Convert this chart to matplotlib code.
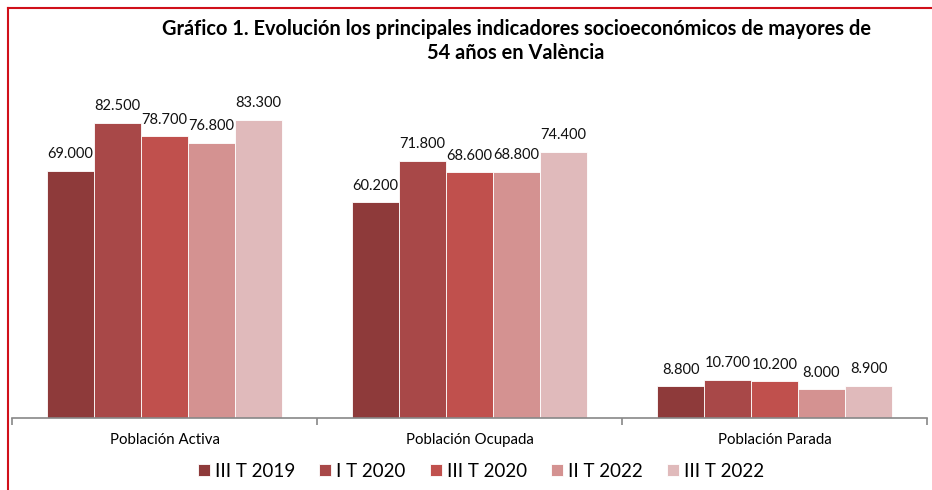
import matplotlib
matplotlib.use("Agg")
import matplotlib.pyplot as plt
import numpy as np
from matplotlib.lines import Line2D

plt.rcParams['font.family'] = ['Lato', 'DejaVu Sans']

categories = ["Población Activa", "Población Ocupada", "Población Parada"]
series_names = ["III T 2019", "I T 2020", "III T 2020", "II T 2022", "III T 2022"]
values = {
    "III T 2019": [69000, 60200, 8800],
    "I T 2020": [82500, 71800, 10700],
    "III T 2020": [78700, 68600, 10200],
    "II T 2022": [76800, 68800, 8000],
    "III T 2022": [83300, 74400, 8900],
}
colors = ["#8E3A3A", "#A84848", "#C0504D", "#D49291", "#E0BABB"]
title = "Gráfico 1. Evolución los principales indicadores socioeconómicos de mayores de\n54 años en València"

def fmt(v):
    return f"{v:,.0f}".replace(",", ".")

fig = plt.figure(figsize=(9.32, 4.9), dpi=100)
ax = fig.add_axes([12/932, 72/490, 915/932, 343/490])

x = np.arange(len(categories))
w = 0.154
for i, name in enumerate(series_names):
    pos = x + (i - 2) * w
    bars = ax.bar(pos, values[name], width=w, color=colors[i], edgecolor="white",
                  linewidth=0.6, label=name)
    for b, v in zip(bars, values[name]):
        ax.annotate(fmt(v), (b.get_x() + b.get_width()/2, b.get_height()),
                    xytext=(0, 7), textcoords="offset points",
                    ha="center", va="bottom", fontsize=10.5, color="#111111")

ax.set_xlim(-0.5, 2.5)
ax.set_ylim(0, 95800)
for s in ["top", "right", "left"]:
    ax.spines[s].set_visible(False)
ax.spines["bottom"].set_color("#888888")
ax.spines["bottom"].set_linewidth(1.2)
ax.set_yticks([])
ax.set_xticks(x)
ax.set_xticklabels(categories, fontsize=10.8)
ax.tick_params(axis="x", which="major", length=0, pad=11)
ax.set_xticks([-0.5, 0.5, 1.5, 2.5], minor=True)
ax.tick_params(axis="x", which="minor", length=5, color="#888888", width=1.2)

fig.text(516/932, 1 - 41/490, title, ha="center", va="center", fontsize=14.4,
         fontweight="bold", linespacing=1.3)

leg = fig.legend(loc="center", bbox_to_anchor=(481/932, 1 - 471/490), ncol=5,
                 frameon=False, fontsize=13.5, handlelength=0.65, handleheight=0.65,
                 handletextpad=0.25, columnspacing=1.3)

fig.add_artist(Line2D([8/932, 8/932], [0, 1 - 8/490], transform=fig.transFigure,
                      color="#D0101A", linewidth=1.5))
fig.add_artist(Line2D([8/932, 1], [1 - 8/490, 1 - 8/490], transform=fig.transFigure,
                      color="#D0101A", linewidth=1.5))

fig.savefig("out.png", dpi=100)
